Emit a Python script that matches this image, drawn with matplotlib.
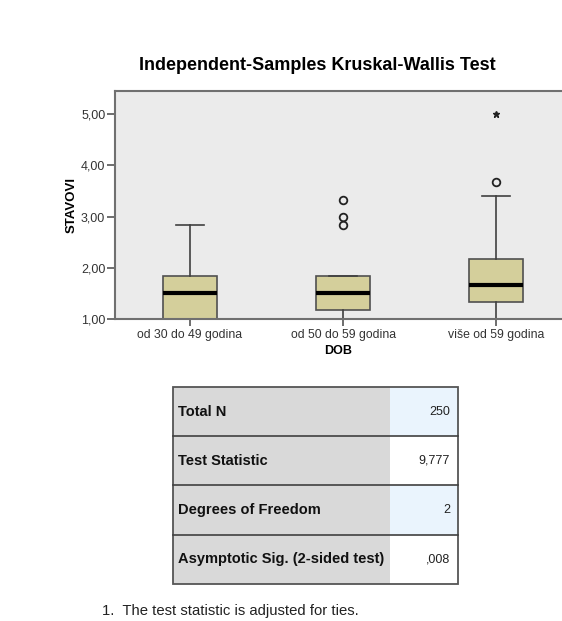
import matplotlib.pyplot as plt
from matplotlib.patches import Rectangle

plt.rcParams['font.family'] = ['Liberation Sans', 'DejaVu Sans']

# boxplot summary for STAVOVI by DOB
groups = ['od 30 do 49 godina', 'od 50 do 59 godina', 'više od 59 godina']
q1 = [1.00, 1.17, 1.33]
med = [1.50, 1.50, 1.67]
q3 = [1.83, 1.83, 2.17]
whislo = [1.00, 1.00, 1.00]
whishi = [2.83, 1.83, 3.40]
outliers = [[], [2.83, 3.00, 3.33], [3.67]]
extremes = [[], [], [5.00]]

yticks = [1, 2, 3, 4, 5]

# test summary table
stat_labels = ['Total N', 'Test Statistic', 'Degrees of Freedom',
               'Asymptotic Sig. (2-sided test)']
stat_values = ['250', '9,777', '2', ',008']

W, H = 562, 621
fig = plt.figure(figsize=(W / 100, H / 100), dpi=100)
fig.patch.set_facecolor('white')


def px(x0, y0, x1, y1):
    # pixel box (top-left origin) -> figure fraction rect
    return [x0 / W, 1 - y1 / H, (x1 - x0) / W, (y1 - y0) / H]


ax = fig.add_axes(px(115, 91, 562, 319))
ax.set_facecolor('#ebebeb')

stats = []
for i in range(len(groups)):
    stats.append({'q1': q1[i], 'med': med[i], 'q3': q3[i],
                  'whislo': whislo[i], 'whishi': whishi[i],
                  'fliers': outliers[i]})

pos = list(range(len(groups)))
ax.bxp(stats, positions=pos, widths=0.35, capwidths=0.18,
       patch_artist=True, showfliers=True,
       boxprops=dict(facecolor='#d4cf9b', edgecolor='#505050', linewidth=1.2),
       medianprops=dict(color='black', linewidth=3, solid_capstyle='butt'),
       whiskerprops=dict(color='#404040', linewidth=1.2),
       capprops=dict(color='#404040', linewidth=1.2),
       flierprops=dict(marker='o', markerfacecolor='none',
                       markeredgecolor='#222222', markersize=5.5,
                       markeredgewidth=1.3))

for i, ext in enumerate(extremes):
    if ext:
        ax.plot([pos[i]] * len(ext), ext, linestyle='none', marker='*',
                color='#222222', markersize=4.5)

ax.set_xlim(-0.49, 2.43)
ax.set_ylim(1.0, 5.45)
ax.set_yticks(yticks)
ax.set_yticklabels([f'{v:.2f}'.replace('.', ',') for v in yticks],
                   fontsize=9, color='#333333')
ax.set_xticks(pos)
ax.set_xticklabels(groups, fontsize=8.8, color='#333333')
ax.tick_params(axis='y', length=6, width=1.2, color='#555555', pad=1)
ax.tick_params(axis='x', length=5, width=1.2, color='#555555', pad=2)

for s in ['left', 'top', 'bottom']:
    ax.spines[s].set_color('#707070')
    ax.spines[s].set_linewidth(1.5)
ax.spines['right'].set_visible(False)

ax.set_ylabel('STAVOVI', fontsize=9.5, fontweight='bold', labelpad=2)
ax.set_xlabel('DOB', fontsize=9, fontweight='bold', labelpad=3)

fig.text(317 / W, 1 - 65 / H, 'Independent-Samples Kruskal-Wallis Test',
         ha='center', va='center', fontsize=13, fontweight='bold')

# table drawn in pixel space
tab = fig.add_axes([0, 0, 1, 1])
tab.set_xlim(0, W)
tab.set_ylim(H, 0)
tab.axis('off')
tab.patch.set_alpha(0)

left, mid, right = 173, 390, 458
top, row_h = 387, 49.2
for i, (lab, val) in enumerate(zip(stat_labels, stat_values)):
    y0 = top + i * row_h
    tab.add_patch(Rectangle((left, y0), mid - left, row_h,
                            facecolor='#d9d9d9', edgecolor='none'))
    tab.add_patch(Rectangle((mid, y0), right - mid, row_h,
                            facecolor='#eaf4fd' if i % 2 == 0 else 'white',
                            edgecolor='none'))
    tab.text(left + 5, y0 + row_h / 2, lab, ha='left', va='center',
             fontsize=10.5, fontweight='bold', color='#111111')
    tab.text(right - 8, y0 + row_h / 2, val, ha='right', va='center',
             fontsize=9, color='#222222')
    if i > 0:
        tab.plot([left, right], [y0, y0], color='#404040', linewidth=1.2)

bottom = top + len(stat_labels) * row_h
tab.add_patch(Rectangle((left, top), right - left, bottom - top,
                        facecolor='none', edgecolor='#555555', linewidth=1.3))

fig.text(102 / W, 1 - 611 / H, '1.  The test statistic is adjusted for ties.',
         ha='left', va='center', fontsize=10.7, color='#222222')

fig.savefig('out.png', dpi=100)
